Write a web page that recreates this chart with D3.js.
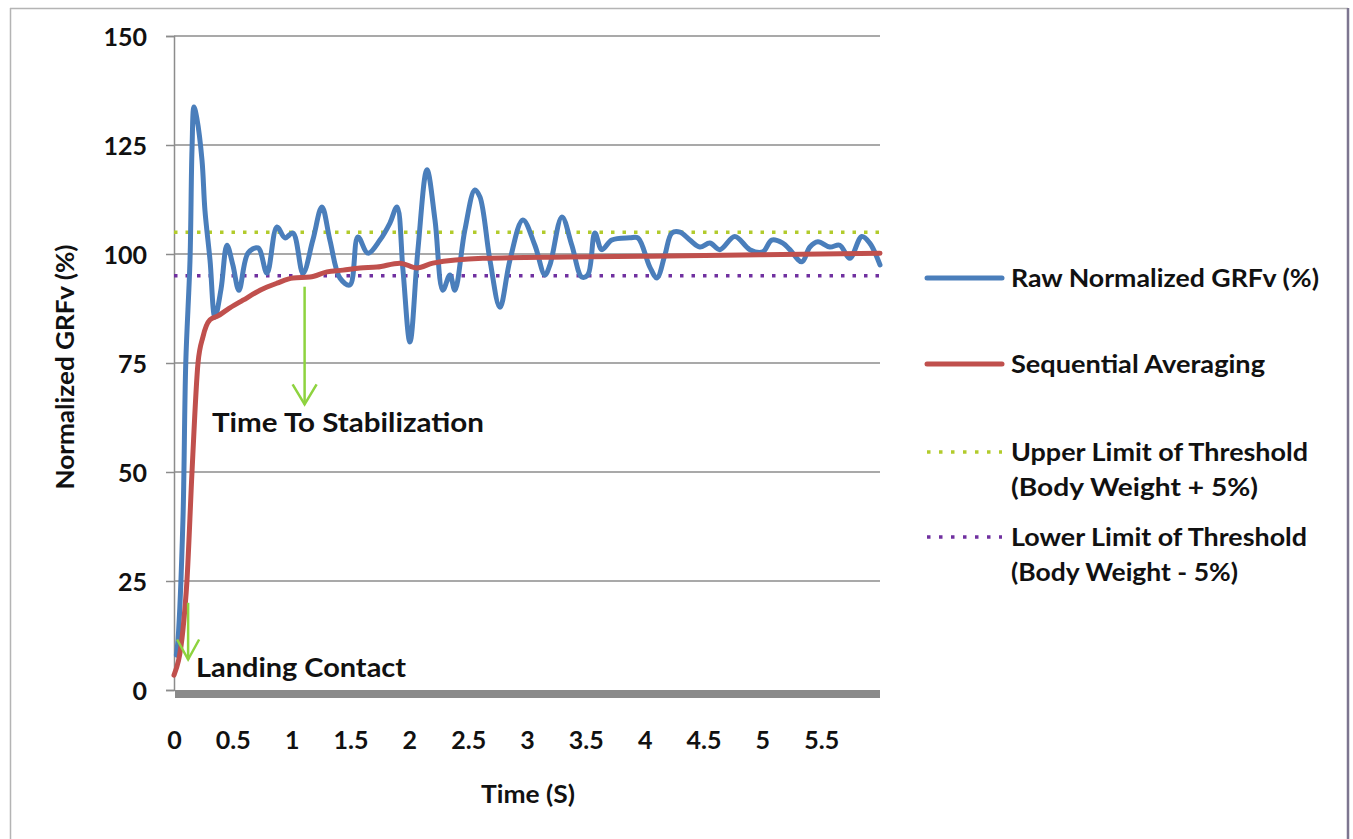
<!DOCTYPE html>
<html><head><meta charset="utf-8">
<script src="https://cdn.jsdelivr.net/npm/d3@7"></script>
<style>
html,body{margin:0;padding:0;background:#fff;}
svg{display:block;}
text{font-family:Lato, "Open Sans", sans-serif;font-weight:700;fill:#111;}
</style></head>
<body>
<svg id="chart" width="1353" height="839"></svg>
<script>
// ---- data ----
const rawTime = [0.02,0.034,0.076,0.10,0.136,0.153,0.17,0.195,0.238,0.263,0.306,0.348,0.40,0.45,0.50,0.552,0.629,0.714,0.79,0.875,0.943,1.011,1.096,1.18,1.257,1.325,1.41,1.495,1.563,1.648,1.75,1.835,1.895,1.946,2.005,2.073,2.15,2.218,2.285,2.345,2.387,2.472,2.557,2.6,2.685,2.77,2.855,2.965,3.067,3.152,3.195,3.297,3.381,3.466,3.517,3.577,3.636,3.721,3.874,3.942,4.044,4.104,4.172,4.231,4.3,4.384,4.469,4.554,4.639,4.766,4.894,5.004,5.08,5.174,5.234,5.336,5.404,5.472,5.573,5.658,5.743,5.845,5.913,6.0];
const rawGRFv = [8,11.5,39,75,98.6,124,133.7,131,121.5,110,98.6,85.5,92,102,97.5,91.7,100.2,101.4,95.6,106.2,103.7,104.8,95.6,103.2,110.8,103.2,94.5,92.9,103.9,100.2,103.2,107.1,110.8,96.3,79.8,101,119.3,107.8,91.7,95.2,91.7,105.5,114.7,113.1,98.6,87.8,98.6,107.8,102,95.2,97.5,108.5,102,94.7,95.2,104.8,101,103.2,103.7,103.7,97,94.5,99.8,104.8,105,103.2,101.6,102.5,101,104,101,100.5,103.2,102.5,101,98.2,101.6,102.8,101.6,102,99,104,102.5,97.5];
const avgTime = [0.0,0.076,0.11,0.153,0.204,0.246,0.306,0.374,0.45,0.586,0.731,0.875,1.011,1.155,1.3,1.436,1.58,1.725,1.92,2.065,2.2,2.625,3.34,4.044,4.98,6.0];
const avgGRFv = [3.4,13.8,25,50,75,81,84.9,85.8,87.2,89.4,91.7,93.3,94.5,94.7,95.9,96.3,96.8,97,97.9,96.8,97.9,99,99.3,99.5,99.8,100.2];
const upperLimit = 105;
const lowerLimit = 95;
const xTicks = [0,0.5,1,1.5,2,2.5,3,3.5,4,4.5,5,5.5];
const yTicks = [0,25,50,75,100,125,150];
const legendLabels = [["Raw Normalized GRFv (%)"],["Sequential Averaging"],["Upper Limit of Threshold","(Body Weight + 5%)"],["Lower Limit of Threshold","(Body Weight - 5%)"]];
const legendWidths = [[308],[254],[297,247],[296,227]];
const landingContact = {t:0.12, from:20, to:7};
const stabilization = {t:1.11, from:92.5, to:65.5};

// ---- layout ----
const svg = d3.select("#chart");
const X0 = 174, X1 = 880, Y0 = 690, Y1 = 36;
const x = d3.scaleLinear().domain([0,6]).range([X0,X1]);
const y = d3.scaleLinear().domain([0,150]).range([Y0,Y1]);

// frame
svg.append("line").attr("x1",10).attr("x2",1348).attr("y1",8.5).attr("y2",8.5).attr("stroke","#b4b4b4").attr("stroke-width",1.5);
svg.append("line").attr("x1",10.5).attr("x2",10.5).attr("y1",8).attr("y2",839).attr("stroke","#b4b4b4").attr("stroke-width",1.5);
svg.append("line").attr("x1",1348).attr("x2",1348).attr("y1",8).attr("y2",839).attr("stroke","#7d7690").attr("stroke-width",2.5);

// gridlines + y axis
const yAxis = d3.axisLeft(y).tickValues(yTicks).tickSize(8).tickFormat(d3.format("d"));
const gy = svg.append("g").attr("transform",`translate(${X0},0)`).call(yAxis);
gy.select(".domain").attr("stroke","#8c8c8c").attr("stroke-width",1.5);
gy.selectAll(".tick line").attr("stroke","#8c8c8c").attr("stroke-width",1.5);
gy.selectAll(".tick text").attr("x",-27).attr("dy","0.36em").style("font-size","25px").attr("fill","#111");
svg.append("g").selectAll("line").data(yTicks.filter(d=>d>0)).join("line")
  .attr("x1",X0).attr("x2",X1).attr("y1",d=>y(d)).attr("y2",d=>y(d))
  .attr("stroke","#8c8c8c").attr("stroke-width",1.5);

// floor bar
svg.append("rect").attr("x",X0+1).attr("y",y(0)).attr("width",X1-X0-1).attr("height",8).attr("fill","#8a8a8a");

// x axis labels
const xAxis = d3.axisBottom(x).tickValues(xTicks).tickSize(0).tickFormat(d=>String(d));
const gx = svg.append("g").attr("transform",`translate(0,${Y0})`).call(xAxis);
gx.select(".domain").remove();
gx.selectAll(".tick text").attr("y",50).attr("dy","0.36em").style("font-size","25px").attr("fill","#111");

// threshold lines
svg.append("line").attr("x1",X0).attr("x2",X1).attr("y1",y(upperLimit)).attr("y2",y(upperLimit))
  .attr("stroke","#b2cb2c").attr("stroke-width",3.5).attr("stroke-dasharray","3.5 8");
svg.append("line").attr("x1",X0).attr("x2",X1).attr("y1",y(lowerLimit)).attr("y2",y(lowerLimit))
  .attr("stroke","#7030a0").attr("stroke-width",3.5).attr("stroke-dasharray","3.5 8");

// series
const rawData = rawTime.map((t,i)=>[t,rawGRFv[i]]);
const avgData = avgTime.map((t,i)=>[t,avgGRFv[i]]);
const line = d3.line().x(d=>x(d[0])).y(d=>y(d[1])).curve(d3.curveCatmullRom.alpha(0.5));
svg.append("path").datum(rawData).attr("d",line).attr("fill","none")
  .attr("stroke","#4a7ebb").attr("stroke-width",5).attr("stroke-linejoin","round").attr("stroke-linecap","round");
svg.append("path").datum(avgData).attr("d",d3.line().x(d=>x(d[0])).y(d=>y(d[1])).curve(d3.curveMonotoneX)).attr("fill","none")
  .attr("stroke","#c0504d").attr("stroke-width",5).attr("stroke-linejoin","round").attr("stroke-linecap","round");

// annotations
function arrow(a, w, h){
  const ax = x(a.t), yt = y(a.from), yb = y(a.to);
  const g = svg.append("g").attr("stroke","#8ed33f").attr("stroke-width",2.5).attr("fill","none");
  g.append("line").attr("x1",ax).attr("x2",ax).attr("y1",yt).attr("y2",yb);
  g.append("path").attr("d",`M${ax-w},${yb-h}L${ax},${yb}L${ax+w},${yb-h}`);
}
arrow(landingContact, 11, 20);
arrow(stabilization, 12, 20);
svg.append("text").attr("x",196).attr("y",677).style("font-size","26px")
  .attr("textLength",210).attr("lengthAdjust","spacingAndGlyphs").text("Landing Contact");
svg.append("text").attr("x",212).attr("y",432).style("font-size","27px")
  .attr("textLength",272).attr("lengthAdjust","spacingAndGlyphs").text("Time To Stabilization");

// axis titles
svg.append("text").attr("x",528).attr("y",803).attr("text-anchor","middle").style("font-size","24px")
  .attr("textLength",94).attr("lengthAdjust","spacingAndGlyphs").text("Time (S)");
svg.append("text").attr("transform","translate(74,367) rotate(-90)").attr("text-anchor","middle").style("font-size","24px")
  .attr("textLength",245).attr("lengthAdjust","spacingAndGlyphs").text("Normalized GRFv (%)");

// legend
const legY = [278,364,452,537];
const legend = svg.append("g");
legendLabels.forEach((lbl,i)=>{
  const ly = legY[i];
  const ln = legend.append("line").attr("x1",927).attr("x2",1002).attr("y1",ly).attr("y2",ly);
  if(i===0) ln.attr("stroke","#4a7ebb").attr("stroke-width",5).attr("stroke-linecap","round");
  if(i===1) ln.attr("stroke","#c0504d").attr("stroke-width",5).attr("stroke-linecap","round");
  if(i===2) ln.attr("stroke","#b2cb2c").attr("stroke-width",3.5).attr("stroke-dasharray","3.5 8.5");
  if(i===3) ln.attr("stroke","#7030a0").attr("stroke-width",3.5).attr("stroke-dasharray","3.5 8.5");
  lbl.forEach((s,j)=>{
    legend.append("text").attr("x",1011).attr("y",ly+9+j*35).style("font-size","25px")
      .attr("textLength",legendWidths[i][j]).attr("lengthAdjust","spacingAndGlyphs").text(s);
  });
});
</script>
</body></html>
